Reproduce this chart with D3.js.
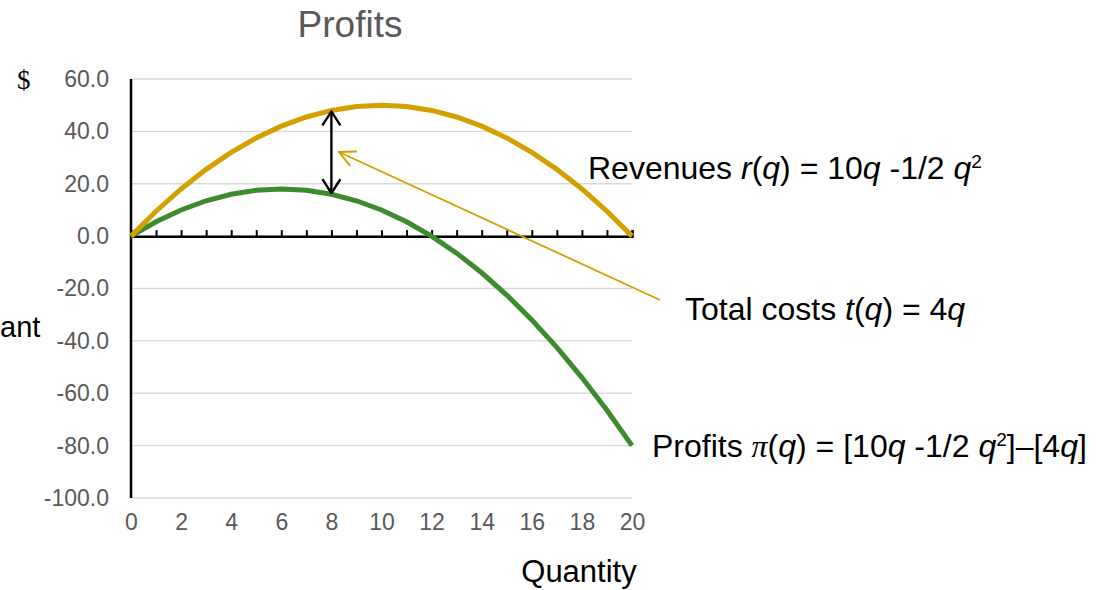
<!DOCTYPE html>
<html>
<head>
<meta charset="utf-8">
<script src="https://cdn.jsdelivr.net/npm/d3@7"></script>
<style>
  body { margin: 0; background: #fff; }
  svg { font-family: "Liberation Sans", Arial, sans-serif; }
</style>
</head>
<body>
<svg width="1113" height="590"></svg>
<script>
// data
const quantity = [0,1,2,3,4,5,6,7,8,9,10,11,12,13,14,15,16,17,18,19,20];
const revenues = [0,9.5,18,25.5,32,37.5,42,45.5,48,49.5,50,49.5,48,45.5,42,37.5,32,25.5,18,9.5,0];
const profits = [0,5.5,10,13.5,16,17.5,18,17.5,16,13.5,10,5.5,0,-6.5,-14,-22.5,-32,-42.5,-54,-66.5,-80];
const yTicks = [60,40,20,0,-20,-40,-60,-80,-100];
const xTicks = [0,2,4,6,8,10,12,14,16,18,20];
const arrowQ = 8;

const svg = d3.select('svg');
const x = d3.scaleLinear().domain([0, 20]).range([131, 632]);
const y = d3.scaleLinear().domain([-100, 60]).range([498, 79]);

const gold = '#D4A000', green = '#3D8A2F', grey = '#595959';
const sans = '"Liberation Sans", Arial, sans-serif';
const serif = '"Liberation Serif", "DejaVu Serif", serif';

// grid
svg.append('g').selectAll('line').data(yTicks).enter().append('line')
  .attr('x1', x(0)).attr('x2', x(20))
  .attr('y1', d => y(d)).attr('y2', d => y(d))
  .attr('stroke', '#d9d9d9').attr('stroke-width', 1.3);

// y axis labels
const fmt = d => d3.format('.1f')(d).replace('−', '-');
const yAxis = d3.axisLeft(y).tickValues(yTicks).tickFormat(fmt).tickSize(0).tickPadding(22);
const gy = svg.append('g').attr('transform', `translate(${x(0)},0)`).call(yAxis);
gy.select('.domain').remove();
gy.selectAll('text').attr('fill', grey).style('font-size', '23px').style('font-family', sans);

// x axis labels at bottom
const xAxis = d3.axisBottom(x).tickValues(xTicks).tickSize(0).tickPadding(16);
const gx = svg.append('g').attr('transform', `translate(0,${y(-100)})`).call(xAxis);
gx.select('.domain').remove();
gx.selectAll('text').attr('fill', grey).style('font-size', '23px').style('font-family', sans);

// vertical axis line
svg.append('line').attr('x1', x(0)).attr('x2', x(0)).attr('y1', y(60)).attr('y2', y(-100))
  .attr('stroke', '#000').attr('stroke-width', 2.5);

// zero line with minor ticks
const zeroAxis = d3.axisTop(x).tickValues(quantity).tickSize(6).tickFormat('');
const gz = svg.append('g').attr('transform', `translate(0,${y(0)})`).call(zeroAxis);
gz.select('.domain').attr('stroke', '#000').attr('stroke-width', 2.5);
gz.selectAll('.tick line').attr('stroke', '#000').attr('stroke-width', 2);

// lines
const line = d3.line().x((d, i) => x(quantity[i])).y(d => y(d));
svg.append('path').datum(profits).attr('d', line)
  .attr('fill', 'none').attr('stroke', green).attr('stroke-width', 5);
svg.append('path').datum(revenues).attr('d', line)
  .attr('fill', 'none').attr('stroke', gold).attr('stroke-width', 5);

// markers
const defs = svg.append('defs');
defs.append('marker').attr('id', 'blk').attr('viewBox', '0 0 16 20').attr('refX', 15).attr('refY', 10)
  .attr('markerWidth', 16).attr('markerHeight', 20).attr('markerUnits', 'userSpaceOnUse').attr('orient', 'auto-start-reverse')
  .append('path').attr('d', 'M1,1 L15,10 L1,19').attr('fill', 'none').attr('stroke', '#000').attr('stroke-width', 2.4);
defs.append('marker').attr('id', 'gld').attr('viewBox', '0 0 18 20').attr('refX', 17).attr('refY', 10)
  .attr('markerWidth', 18).attr('markerHeight', 20).attr('markerUnits', 'userSpaceOnUse').attr('orient', 'auto')
  .append('path').attr('d', 'M1,2 L17,10 L1,18').attr('fill', 'none').attr('stroke', gold).attr('stroke-width', 2);

// double arrow at q = 8 (gap = costs)
svg.append('line')
  .attr('x1', x(arrowQ)).attr('x2', x(arrowQ))
  .attr('y1', y(revenues[arrowQ]) + 1).attr('y2', y(profits[arrowQ]) - 1)
  .attr('stroke', '#000').attr('stroke-width', 2.4)
  .attr('marker-start', 'url(#blk)').attr('marker-end', 'url(#blk)');

// pointer from costs label
svg.append('line').attr('x1', 660).attr('y1', 300).attr('x2', 339).attr('y2', 152)
  .attr('stroke', gold).attr('stroke-width', 1.8).attr('marker-end', 'url(#gld)');

// titles
svg.append('text').attr('x', 350).attr('y', 37).attr('text-anchor', 'middle')
  .attr('fill', grey).style('font-size', '37px').text('Profits');
svg.append('text').attr('x', 17).attr('y', 89).style('font-family', serif)
  .style('font-size', '27px').text('$');
svg.append('text').attr('x', 0).attr('y', 337).style('font-size', '29px').text('ant');
svg.append('text').attr('x', 579).attr('y', 582).attr('text-anchor', 'middle').style('font-size', '31px').text('Quantity');

// annotations
const rev = svg.append('text').attr('x', 588).attr('y', 179).style('font-size', '32px');
rev.append('tspan').text('Revenues ');
rev.append('tspan').style('font-style', 'italic').text('r');
rev.append('tspan').text('(');
rev.append('tspan').style('font-style', 'italic').text('q');
rev.append('tspan').text(') = 10');
rev.append('tspan').style('font-style', 'italic').text('q');
rev.append('tspan').text(' -1/2 ');
rev.append('tspan').style('font-style', 'italic').text('q');
rev.append('tspan').attr('dy', -11).style('font-size', '19px').text('2');

const cost = svg.append('text').attr('x', 685).attr('y', 320).style('font-size', '32px');
cost.append('tspan').text('Total costs ');
cost.append('tspan').style('font-style', 'italic').text('t');
cost.append('tspan').text('(');
cost.append('tspan').style('font-style', 'italic').text('q');
cost.append('tspan').text(') = 4');
cost.append('tspan').style('font-style', 'italic').text('q');

const prof = svg.append('text').attr('x', 652).attr('y', 457).style('font-size', '32px');
prof.append('tspan').text('Profits ');
prof.append('tspan').style('font-family', serif).style('font-style', 'italic').text('π');
prof.append('tspan').text('(');
prof.append('tspan').style('font-style', 'italic').text('q');
prof.append('tspan').text(') = [10');
prof.append('tspan').style('font-style', 'italic').text('q');
prof.append('tspan').text(' -1/2 ');
prof.append('tspan').style('font-style', 'italic').text('q');
prof.append('tspan').attr('dy', -11).style('font-size', '19px').text('2');
prof.append('tspan').attr('dy', 11).text(']–[4');
prof.append('tspan').style('font-style', 'italic').text('q');
prof.append('tspan').text(']');
</script>
</body>
</html>
